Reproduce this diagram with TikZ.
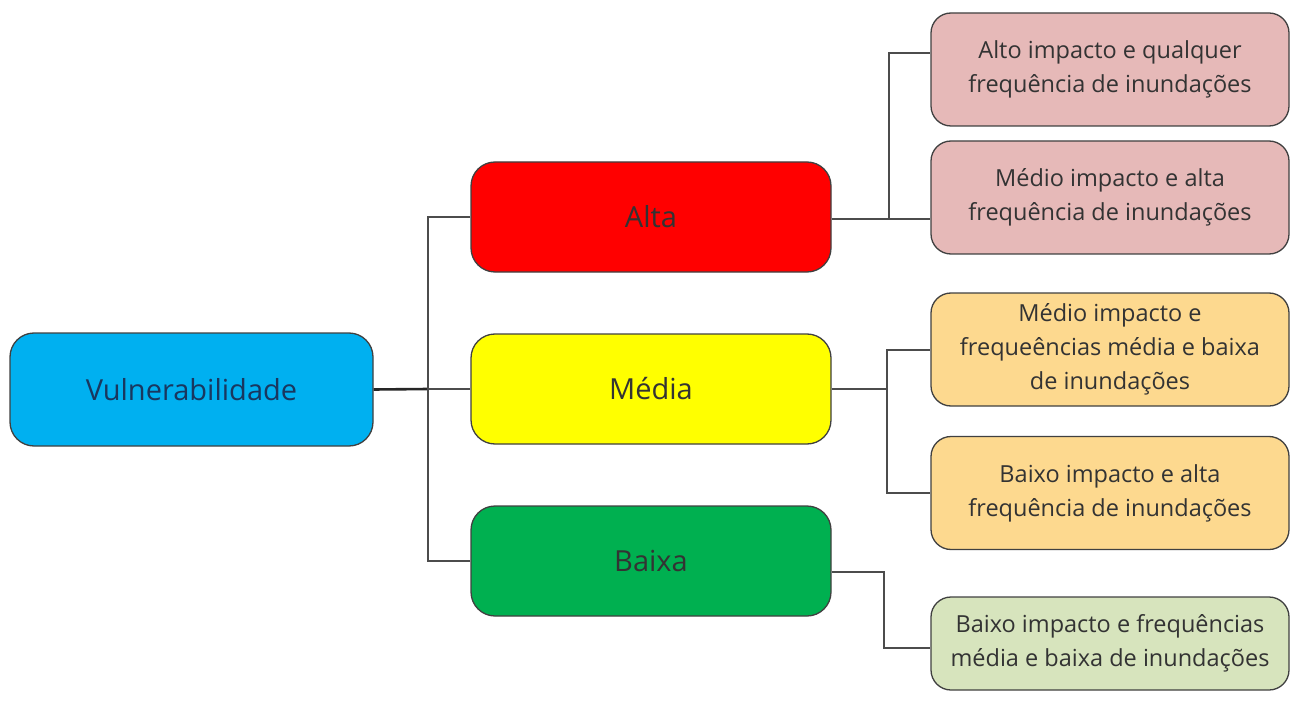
\documentclass[tikz,border=0pt]{standalone}
\usepackage{fontspec}
\setmainfont{Open Sans}

\definecolor{vulblue}{HTML}{00B0F0}
\definecolor{altared}{HTML}{FF0000}
\definecolor{mediayellow}{HTML}{FFFF00}
\definecolor{baixagreen}{HTML}{00B050}
\definecolor{altapink}{HTML}{E6B9B8}
\definecolor{mediaorange}{HTML}{FDD98F}
\definecolor{baixalight}{HTML}{D7E4BD}

\begin{document}
\begin{tikzpicture}[x=1pt,y=-1pt,
  box/.style={draw=black!75, line width=1.3pt, align=center, inner sep=0pt},
  levelbox/.style={box, rounded corners=24pt, minimum width=360pt, minimum height=110pt, font=\fontsize{29}{34}\selectfont, text=black!80},
  casebox/.style={box, rounded corners=20pt, minimum width=358pt, minimum height=113pt, font=\fontsize{23.5}{34}\selectfont, text=black!80},
  link/.style={draw=black!70, line width=2pt}]

  \useasboundingbox (0,0) rectangle (1292,703);

% root
  \node[levelbox, fill=vulblue, minimum width=363pt, minimum height=113pt, text={rgb,255:red,25;green,55;blue,95}] (vul) at (191.5,389.5) {Vulnerabilidade};

% levels
  \node[levelbox, fill=altared]     (alta)  at (651,217) {Alta};
  \node[levelbox, fill=mediayellow] (media) at (651,389) {Média};
  \node[levelbox, fill=baixagreen]  (baixa) at (651,561) {Baixa};

% cases
  \node[casebox, fill=altapink]    (altaone)  at (1110,69.5)  {Alto impacto e qualquer\\frequência de inundações};
  \node[casebox, fill=altapink]    (altatwo)  at (1110,197.5) {Médio impacto e alta\\frequência de inundações};
  \node[casebox, fill=mediaorange] (mediaone) at (1110,349.5) {Médio impacto e\\frequeências média e baixa\\de inundações};
  \node[casebox, fill=mediaorange] (mediatwo) at (1110,493)   {Baixo impacto e alta\\frequência de inundações};
  \node[casebox, fill=baixalight, minimum height=93pt] (baixaone) at (1110,643.5) {Baixo impacto e frequências\\média e baixa de inundações};

% joints
  \coordinate (jroot)  at (428,389);
  \coordinate (jalta)  at (889,219);
  \coordinate (jmedia) at (887,389);
  \coordinate (jbaixa) at (884,572);

% connectors
  \draw[link, line width=2.6pt, draw=black!85] (vul.east) -- (jroot);
  \draw[link] (alta.west) -| (jroot);
  \draw[link] (media.west) -- (jroot);
  \draw[link] (baixa.west) -| (jroot);

  \draw[link] (alta.east |- jalta) -- (jalta) -- (jalta -| altatwo.west);
  \draw[link] (jalta) |- ([yshift=16pt]altaone.west);

  \draw[link] (media.east) -- (jmedia) |- (mediaone.west);
  \draw[link] (jmedia) |- (mediatwo.west);

  \draw[link] (baixa.east |- jbaixa) -- (jbaixa) |- ([yshift=-4pt]baixaone.west);

\end{tikzpicture}
\end{document}
